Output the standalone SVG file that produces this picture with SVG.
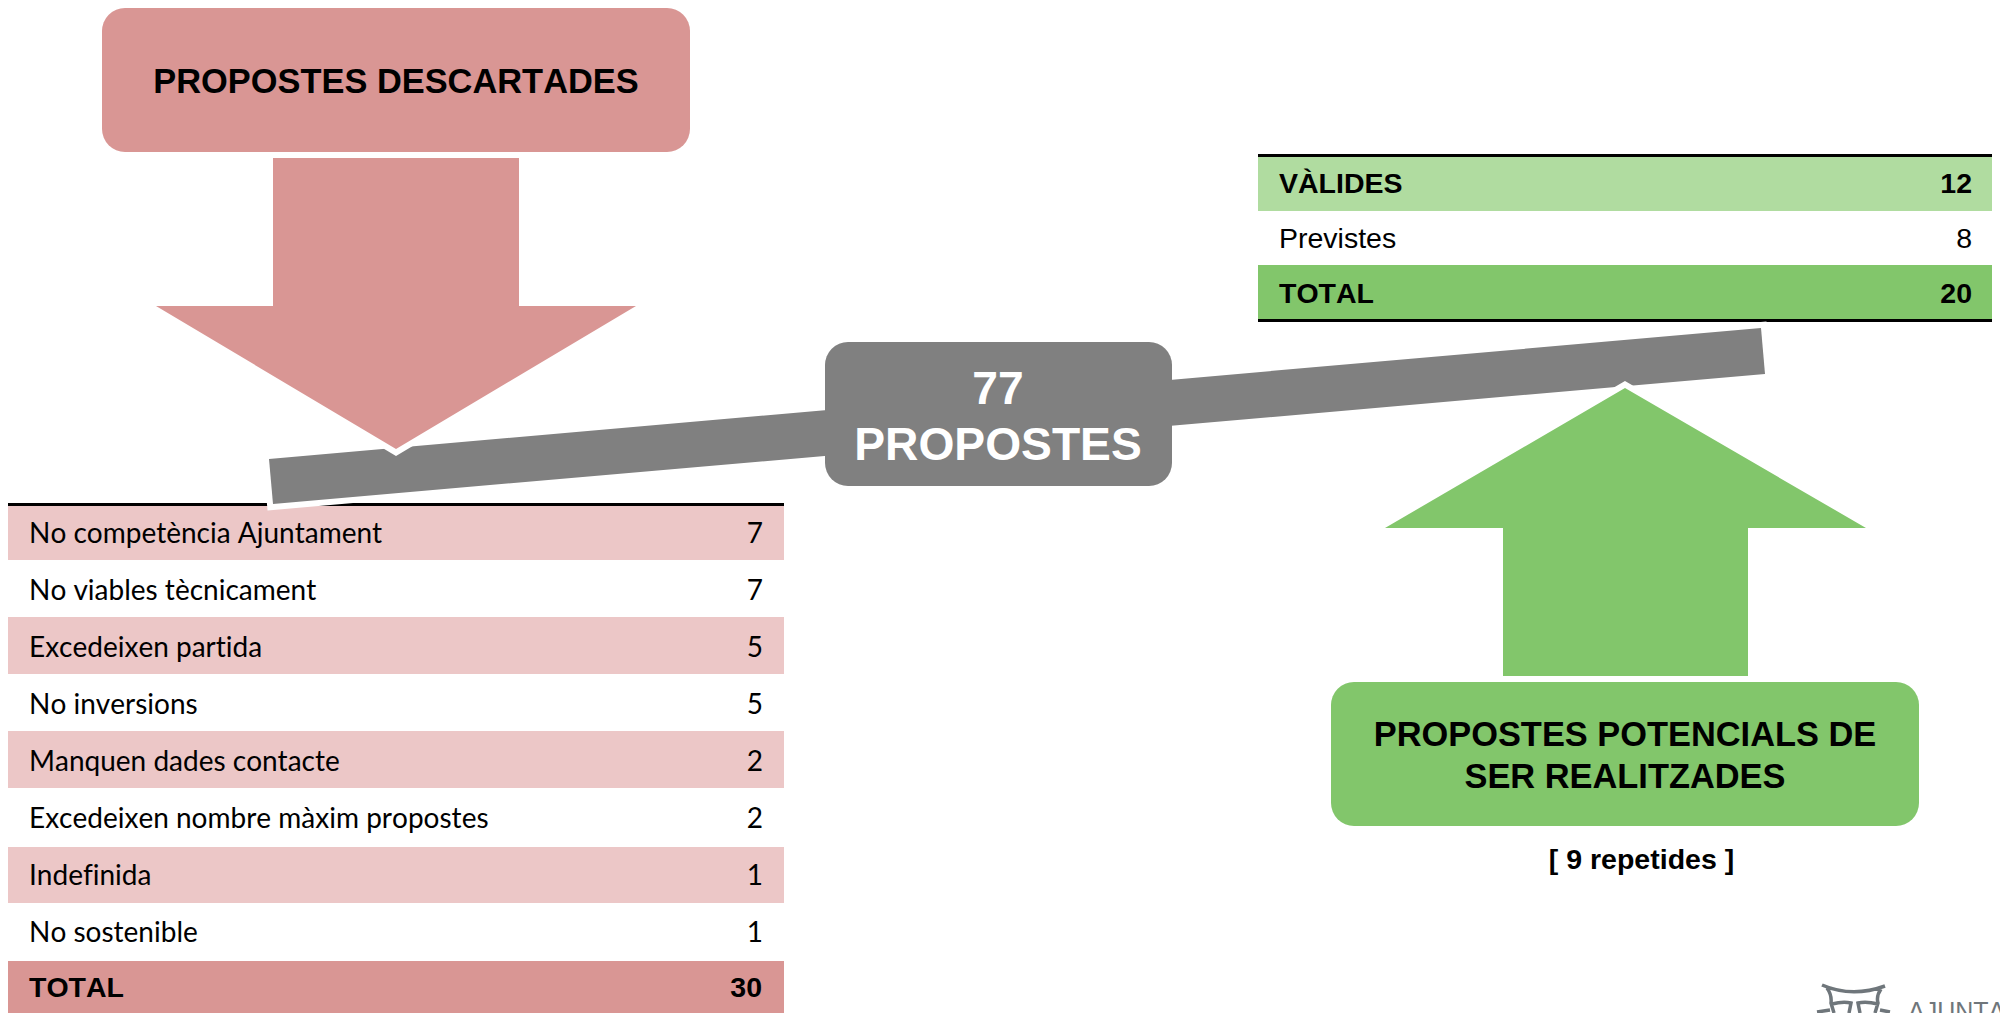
<svg xmlns="http://www.w3.org/2000/svg" width="2000" height="1013" viewBox="0 0 2000 1013">
<style>
text{fill:#000;font-family:"Liberation Sans",Arial,sans-serif;font-kerning:none}
.b{font-weight:700}
.h{font-weight:700;font-size:34.4px;text-anchor:middle}
.c{font-family:Lato,"Liberation Sans",sans-serif;font-size:28px;font-variant-ligatures:none}
.t{font-size:28.5px}
.e{text-anchor:end}
.w{fill:#fff;font-weight:700;font-size:46.2px;text-anchor:middle}
.red{fill:#D99694}
.pink{fill:#ECC7C7}
.grn{fill:#82C66B}
.lg{fill:#B0DCA0}
.gry{fill:#808080}
.line{fill:#000}
.halo{stroke:#fff;stroke-width:12;paint-order:stroke;stroke-miterlimit:8}
.logo{fill:none;stroke:#6F767B;stroke-width:3.5}
</style>
<rect width="2000" height="1013" fill="#fff"/>
<g id="table-descartades">
<rect class="pink" x="8" y="506" width="776" height="54"/>
<rect class="pink" x="8" y="617" width="776" height="57"/>
<rect class="pink" x="8" y="731" width="776" height="57"/>
<rect class="pink" x="8" y="847" width="776" height="56"/>
<rect class="red" x="8" y="961" width="776" height="52"/>
<rect class="line" x="8" y="503" width="776" height="3"/>
<text class="c" x="29" y="542.5">No competència Ajuntament</text><text class="c e" x="763" y="542.5">7</text>
<text class="c" x="29" y="599.5">No viables tècnicament</text><text class="c e" x="763" y="599.5">7</text>
<text class="c" x="29" y="656.5">Excedeixen partida</text><text class="c e" x="763" y="656.5">5</text>
<text class="c" x="29" y="713.5">No inversions</text><text class="c e" x="763" y="713.5">5</text>
<text class="c" x="29" y="770.5">Manquen dades contacte</text><text class="c e" x="763" y="770.5">2</text>
<text class="c" x="29" y="827.5">Excedeixen nombre màxim propostes</text><text class="c e" x="763" y="827.5">2</text>
<text class="c" x="29" y="884.5">Indefinida</text><text class="c e" x="763" y="884.5">1</text>
<text class="c" x="29" y="941.5">No sostenible</text><text class="c e" x="763" y="941.5">1</text>
<text class="t b" x="29" y="997">TOTAL</text><text class="t b e" x="762" y="997">30</text>
</g>
<g id="table-valides">
<rect class="lg" x="1258" y="157" width="734" height="54"/>
<rect class="grn" x="1258" y="265" width="734" height="54"/>
<rect class="line" x="1258" y="154" width="734" height="3"/>
<rect class="line" x="1258" y="319" width="734" height="3"/>
<text class="t b" x="1279" y="193">VÀLIDES</text><text class="t b e" x="1972" y="193">12</text>
<text class="t" x="1279" y="248">Previstes</text><text class="t e" x="1972" y="248">8</text>
<text class="t b" x="1279" y="303">TOTAL</text><text class="t b e" x="1972" y="303">20</text>
</g>
<g id="connectors">
<polygon id="beam" class="gry halo" points="269,459 1761,328 1765,374 273,504"/>
<polygon id="arrow-down" class="red halo" points="273,158 519,158 519,306 636,306 396,449 156,306 273,306"/>
<polygon id="arrow-up" class="grn halo" points="1503,676 1748,676 1748,528 1866,528 1625,388 1385,528 1503,528"/>
</g>
<g id="node-descartades">
<rect class="red" x="102" y="8" width="588" height="144" rx="23"/>
<text class="h" x="396" y="92.5">PROPOSTES DESCARTADES</text>
</g>
<g id="node-total">
<rect class="gry" x="825" y="342" width="347" height="144" rx="23"/>
<text class="w" x="998" y="404">77</text>
<text class="w" x="998" y="459.5">PROPOSTES</text>
</g>
<g id="node-potencials">
<rect class="grn" x="1331" y="682" width="588" height="144" rx="23"/>
<text class="h" x="1625" y="746">PROPOSTES POTENCIALS DE</text>
<text class="h" x="1625" y="788">SER REALITZADES</text>
</g>
<text id="repetides" class="b" x="1641.5" y="869" font-size="28.5" text-anchor="middle">[ 9 repetides ]</text>
<g id="logo">
<path class="logo" d="M1822,985 Q1852,998 1885,986 M1827,988 Q1832,995 1831,1003 L1834,1013 M1881,989 Q1876,996 1878,1003 L1875,1013 M1832,1004 Q1843,1001 1851,1003 L1849,1013 M1878,1004 Q1866,1001 1858,1003 L1860,1013 M1817,1012 L1830,1010 M1890,1012 L1880,1010"/>
<text x="1908" y="1020" font-size="25" style="fill:#6F767B">AJUNTA</text>
</g>
</svg>
